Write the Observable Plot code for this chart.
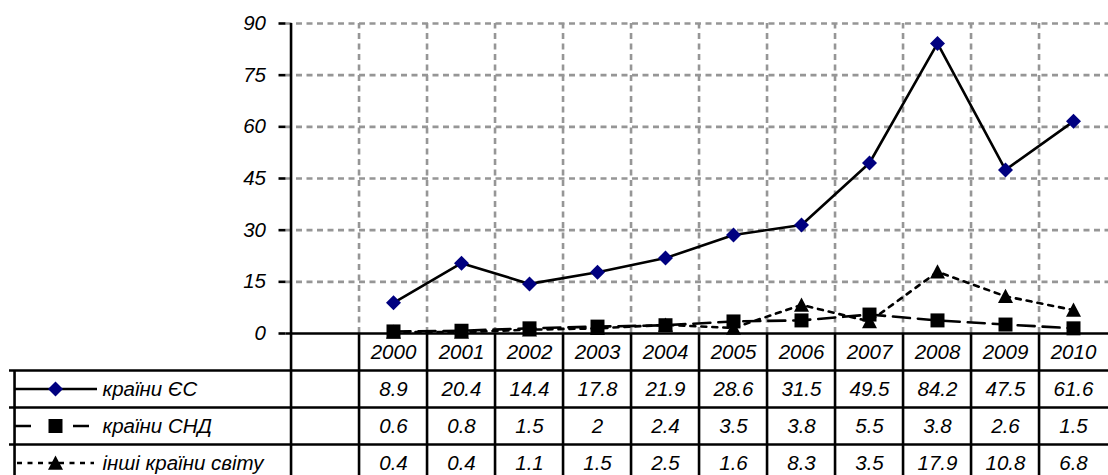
<!DOCTYPE html>
<html><head><meta charset="utf-8">
<script src="https://cdn.jsdelivr.net/npm/d3@7"></script>
<script src="https://cdn.jsdelivr.net/npm/@observablehq/plot@0.6"></script>
<style>html,body{margin:0;padding:0;background:#fff;overflow:hidden}</style>
</head><body><div id="chart"></div>
<script>
// ---- data ----
const years = ["2000","2001","2002","2003","2004","2005","2006","2007","2008","2009","2010"];
const euValues = [8.9, 20.4, 14.4, 17.8, 21.9, 28.6, 31.5, 49.5, 84.2, 47.5, 61.6];
const cisValues = [0.6, 0.8, 1.5, 2, 2.4, 3.5, 3.8, 5.5, 3.8, 2.6, 1.5];
const otherValues = [0.4, 0.4, 1.1, 1.5, 2.5, 1.6, 8.3, 3.5, 17.9, 10.8, 6.8];
const seriesNames = ["країни ЄС", "країни СНД", "інші країни світу"];
const yTicks = [0, 15, 30, 45, 60, 75, 90];

// ---- layout ----
const W = 1108, H = 475, X0 = 285.5, X1 = 1112.5, YTOP = 23, YBOT = 333, ROW = 37, LEFT = 9;
const xDomain = [" ", ...years];
const bw = (X1 - X0) / xDomain.length;
const u = px => px * 90 / (YBOT - YTOP);   // pixels -> y units
const rowY = k => -u(ROW * k);              // table row positions below the axis
const FONT = "'Liberation Sans', Arial, sans-serif";
const FS = 20.5;
const GRID = "#969696";
const LW = 2.6;

const symbols = {
  diamond: {draw(c, s) { const r = Math.sqrt(s / Math.PI); c.moveTo(0, -r); c.lineTo(r, 0); c.lineTo(0, r); c.lineTo(-r, 0); c.closePath(); }},
  square: {draw(c, s) { const r = Math.sqrt(s / Math.PI); c.moveTo(-r, -r); c.lineTo(r, -r); c.lineTo(r, r); c.lineTo(-r, r); c.closePath(); }},
  triangle: {draw(c, s) { const r = Math.sqrt(s / Math.PI); c.moveTo(0, -r); c.lineTo(r, r * 0.9); c.lineTo(-r, r * 0.9); c.closePath(); }}
};

const series = [
  {name: seriesNames[0], values: euValues, dash: null, legendDash: null, l0: 15, l1: 97, symbol: symbols.diamond, fill: "#000080", r: 7.5},
  {name: seriesNames[1], values: cisValues, dash: "17,8", legendDash: "16,42", l0: 15, l1: 89, symbol: symbols.square, fill: "#000", r: 7},
  {name: seriesNames[2], values: otherValues, dash: "5,6", legendDash: "5,5.5", l0: 17, l1: 94, symbol: symbols.triangle, fill: "#000", r: 7.5}
];

const txt = {fontFamily: FONT, fontSize: FS, fontStyle: "italic", fill: "black"};

const marks = [
  // grid
  Plot.ruleY(yTicks.slice(1), {y: d => d, stroke: GRID, strokeWidth: 2.6, strokeDasharray: "6,4.5"}),
  Plot.ruleX(years, {x: d => d, dx: -bw / 2, y1: () => 0, y2: () => 90, stroke: GRID, strokeWidth: 2.6, strokeDasharray: "6,4.5"}),
  // table verticals (incl. y-axis continuation)
  Plot.ruleX(xDomain, {x: d => d, dx: -bw / 2, y1: () => 0, y2: () => rowY(4), stroke: "black", strokeWidth: LW}),
  Plot.ruleX([" "], {x: d => d, dx: LEFT - X0 - bw / 2, y1: () => rowY(1), y2: () => rowY(4), stroke: "black", strokeWidth: LW}),
  // table horizontals
  Plot.ruleY([1, 2, 3], {y: k => rowY(k), insetLeft: -(X0 - LEFT), stroke: "black", strokeWidth: LW}),
  // y axis
  Plot.ruleX([" "], {x: d => d, dx: -bw / 2, y1: () => 0, y2: () => 90, stroke: "black", strokeWidth: LW}),
  Plot.ruleY(yTicks, {y: d => d, insetLeft: -7, insetRight: W - X0, stroke: "black", strokeWidth: LW}),
  Plot.text(yTicks, {y: d => d, frameAnchor: "left", dx: -20, textAnchor: "end", text: d => String(d), ...txt}),
  // x axis
  Plot.ruleY([0], {y: d => d, stroke: "black", strokeWidth: LW}),
  // table header
  Plot.text(years, {x: d => d, y: () => rowY(0.5), text: d => d, ...txt}),
  // table values + legend cells
  ...series.flatMap((s, i) => [
    Plot.text(s.values, {x: (d, j) => years[j], y: () => rowY(i + 1.5), text: d => String(d), ...txt}),
    Plot.text([s.name], {frameAnchor: "left", dx: 102 - X0, y: () => rowY(i + 1.5), textAnchor: "start", text: d => d, ...txt}),
    Plot.ruleY([0], {y: () => rowY(i + 1.5), insetLeft: -(X0 - s.l0), insetRight: W - s.l1, stroke: "black", strokeWidth: LW, strokeDasharray: s.legendDash}),
    Plot.dot([0], {frameAnchor: "left", dx: 55 - X0, y: () => rowY(i + 1.5), symbol: s.symbol, r: s.r, fill: s.fill, stroke: "none"})
  ]),
  // series
  ...series.flatMap(s => [
    Plot.line(s.values, {x: (d, j) => years[j], y: d => d, stroke: "black", strokeWidth: LW, strokeDasharray: s.dash}),
    Plot.dot(s.values, {x: (d, j) => years[j], y: d => d, symbol: s.symbol, r: s.r, fill: s.fill, stroke: "none"})
  ])
];

const chart = Plot.plot({
  width: W, height: H,
  marginTop: YTOP, marginBottom: H - YBOT, marginLeft: X0, marginRight: 0,
  x: {type: "band", domain: xDomain, range: [X0, X1], padding: 0, axis: null},
  y: {domain: [0, 90], range: [YBOT, YTOP], axis: null},
  style: {background: "white", color: "black", fontFamily: FONT, overflow: "hidden"},
  marks
});
document.getElementById("chart").appendChild(chart);
</script>
</body></html>
